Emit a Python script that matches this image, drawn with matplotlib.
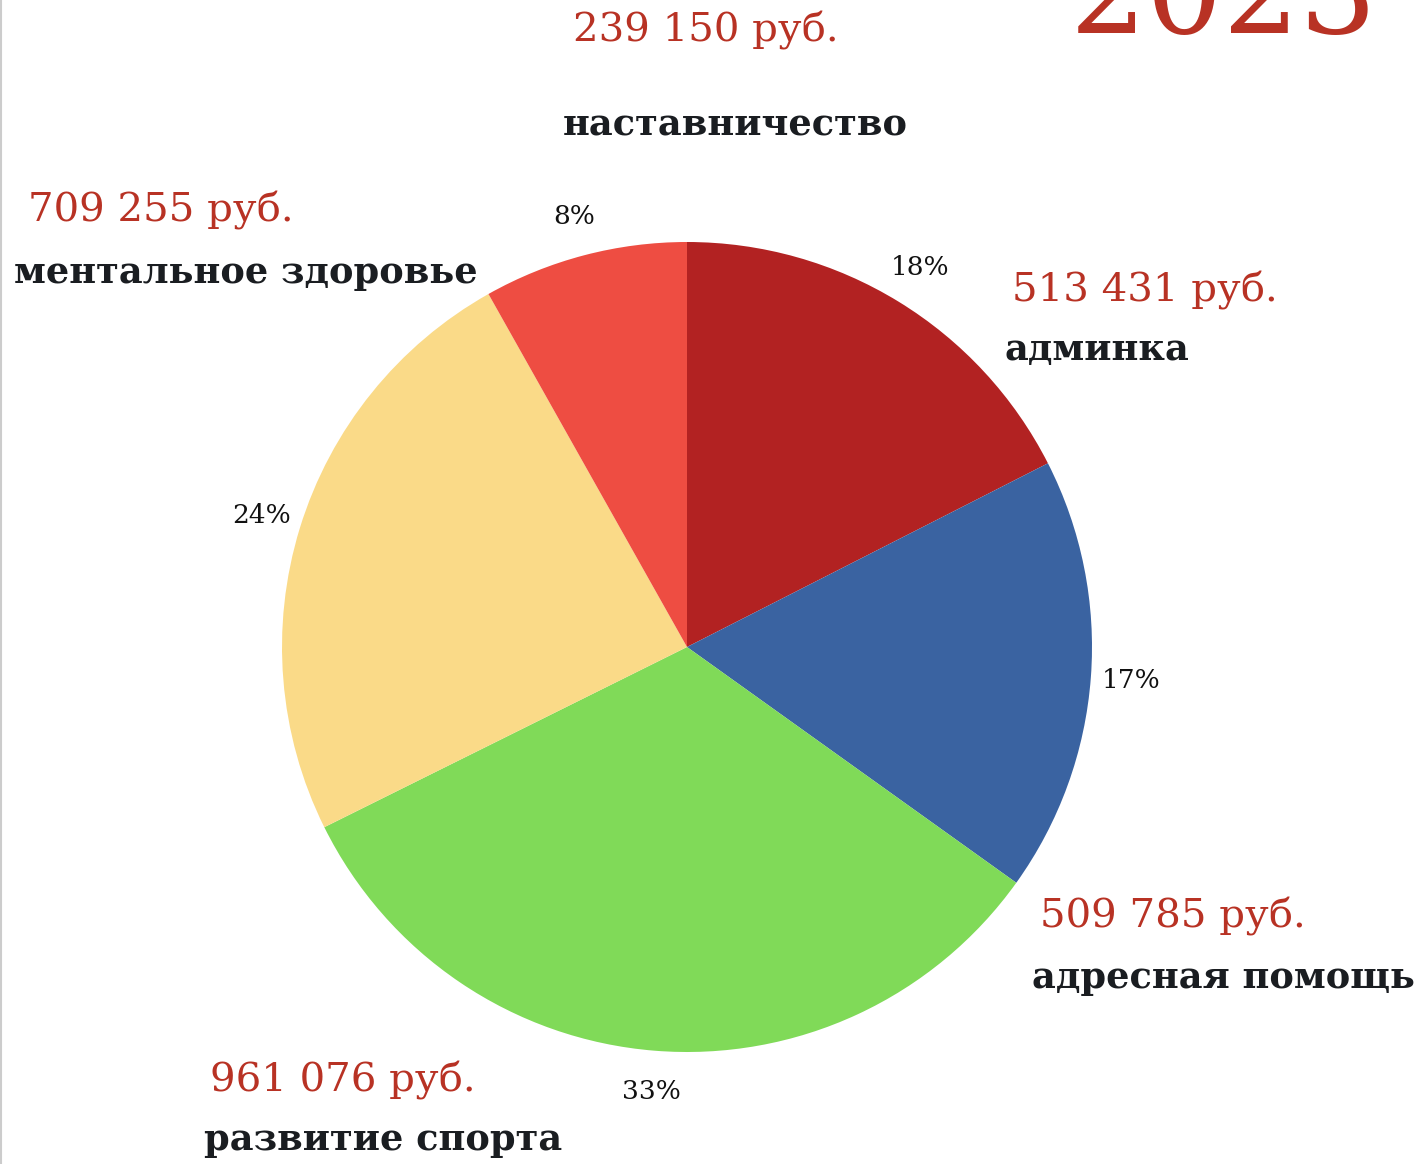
import matplotlib
matplotlib.use("Agg")
import matplotlib.pyplot as plt
from matplotlib.lines import Line2D

categories = ["админка", "адресная помощь", "развитие спорта", "ментальное здоровье", "наставничество"]
values = [513431, 509785, 961076, 709255, 239150]
amount_labels = ["513 431 руб.", "509 785 руб.", "961 076 руб.", "709 255 руб.", "239 150 руб."]
colors = ["#B22222", "#3A63A1", "#80DA58", "#FADA88", "#EE4D42"]
year_label = "2023"

W, H = 1427, 1164
fig = plt.figure(figsize=(W / 100, H / 100), dpi=100)
fig.patch.set_facecolor("white")

cx, cy, r = 687, 647, 405
ax = fig.add_axes([(cx - r) / W, (H - cy - r) / H, 2 * r / W, 2 * r / H])
wedges, texts, autotexts = ax.pie(
    values, colors=colors, startangle=90, counterclock=False,
    autopct="%.0f%%", pctdistance=1.1, radius=1,
    wedgeprops=dict(linewidth=0),
    textprops=dict(fontsize=19, family="DejaVu Serif", color="#111111"),
)
ax.set_xlim(-1, 1)
ax.set_ylim(-1, 1)
ax.set_aspect("equal")
ax.axis("off")

red = "#B83224"
dark = "#1A1D21"
serif = ["DejaVu Serif"]

# (amount label pos, category label pos) in pixels: left x, center y
positions = [
    ((1012, 290), (1005, 350)),
    ((1040, 916), (1032, 978)),
    ((210, 1080), (204, 1140)),
    ((28, 210), (14, 273)),
    ((573, 30), (563, 125)),
]

for cat, amt, ((ax_, ay_), (bx, by)) in zip(categories, amount_labels, positions):
    fig.text(ax_ / W, 1 - ay_ / H, amt, ha="left", va="center", fontsize=29,
             color=red, family=serif)
    fig.text(bx / W, 1 - by / H, cat, ha="left", va="center", fontsize=26.5,
             color=dark, family=serif, fontweight="bold")

fig.text(1070 / W, 1 - 33 / H, year_label, ha="left", va="baseline", fontsize=87,
         color=red, family=serif)

fig.add_artist(Line2D([1 / W, 1 / W], [0, 1], color="#cccccc", linewidth=1.5,
                      transform=fig.transFigure))

fig.savefig("out.png", dpi=100)
